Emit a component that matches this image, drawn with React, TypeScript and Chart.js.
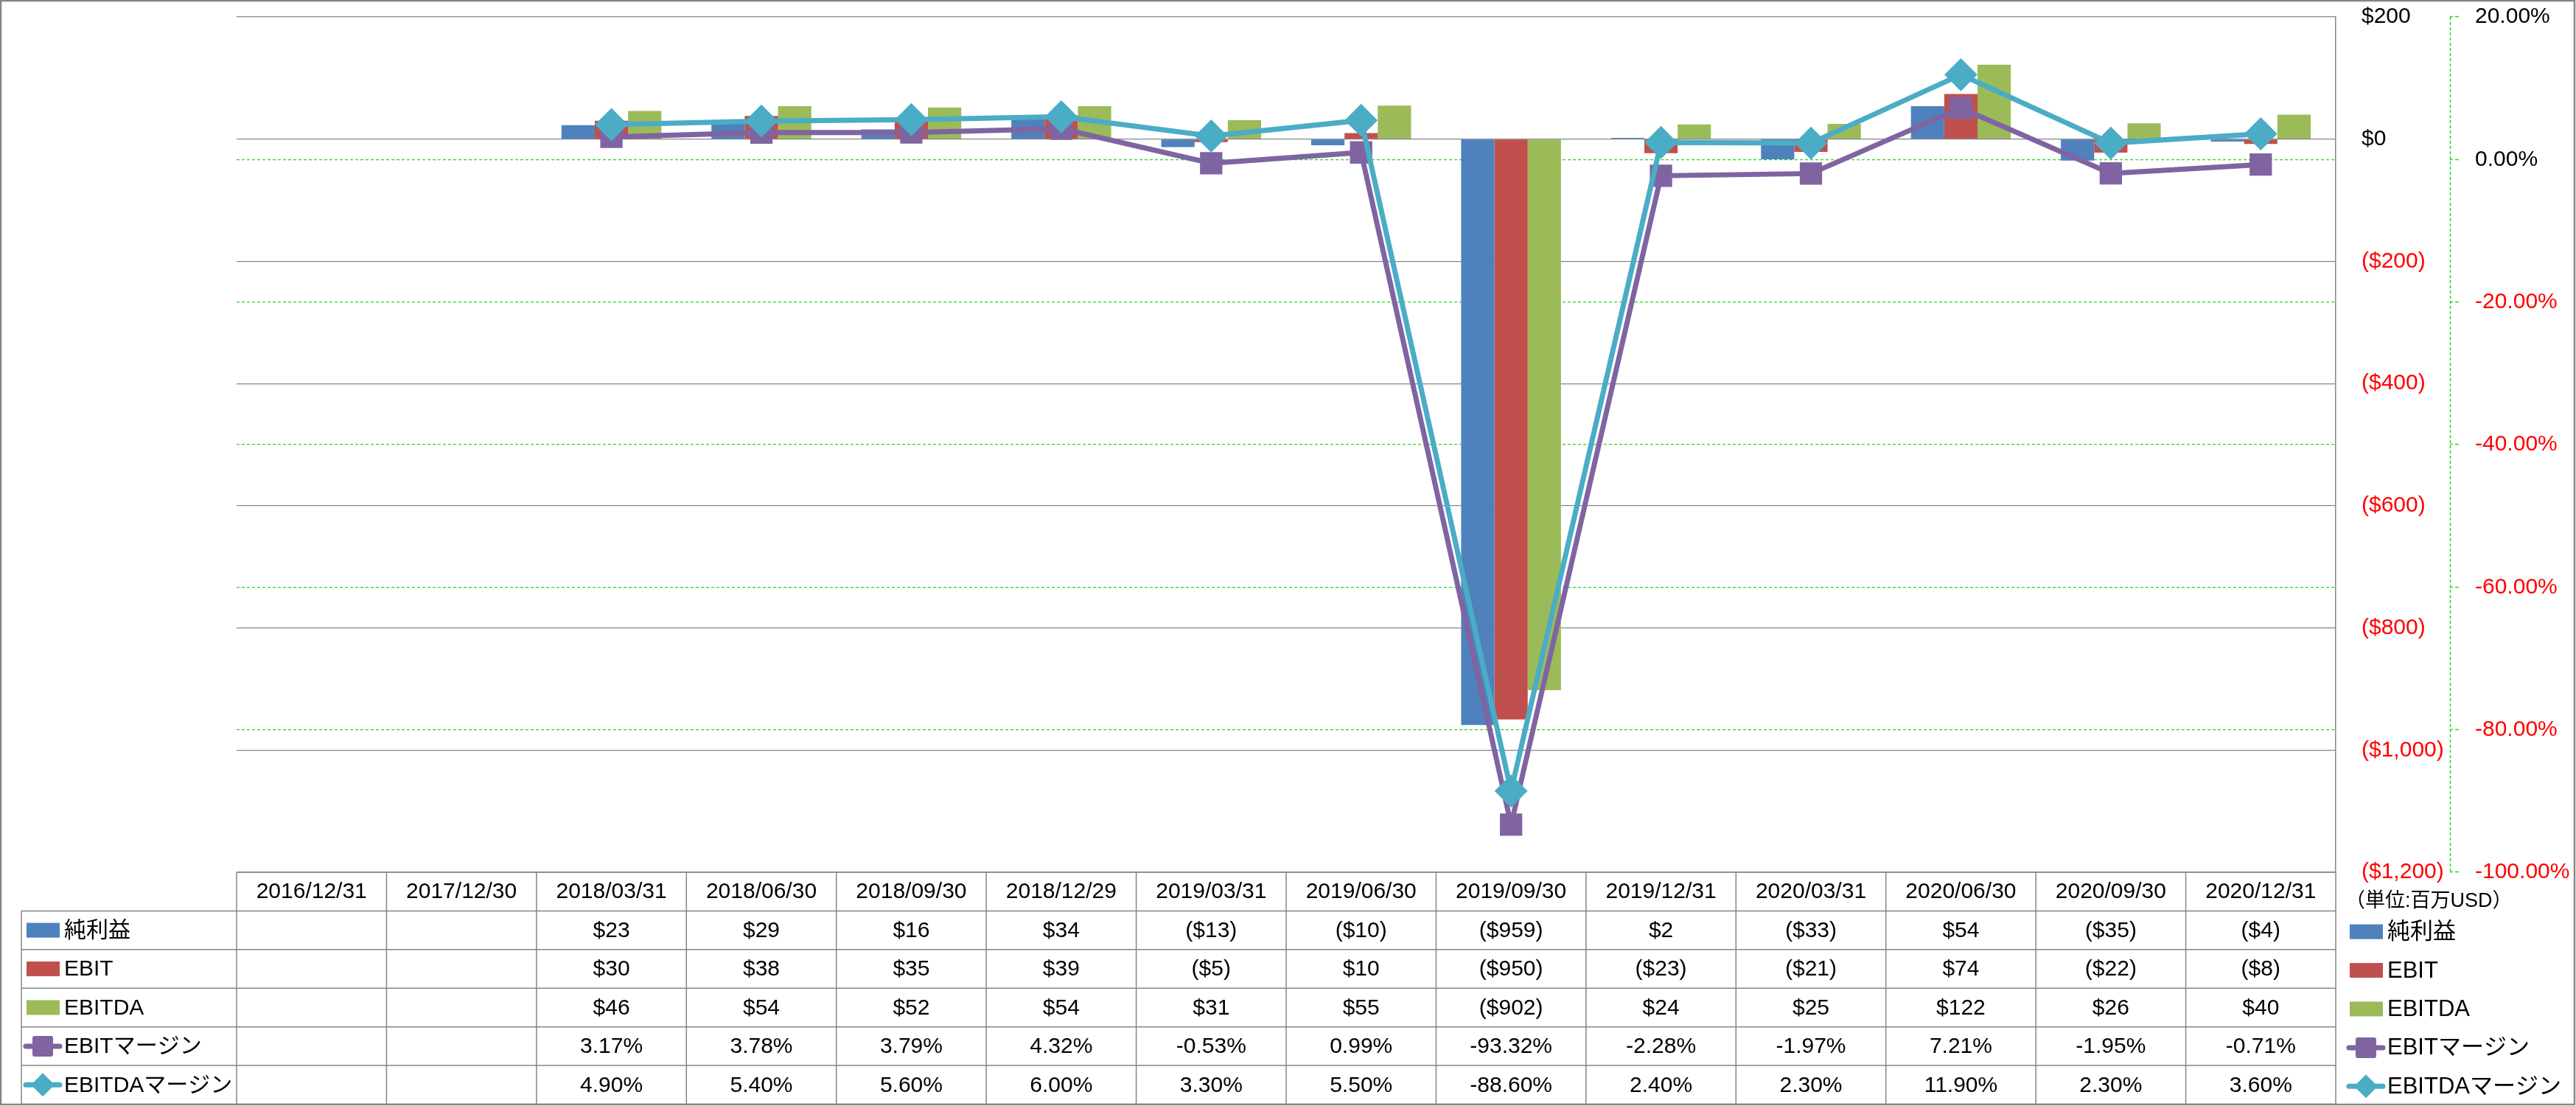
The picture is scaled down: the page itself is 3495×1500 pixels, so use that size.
import React, { useEffect, useRef } from "react";
import { Chart, registerables } from "chart.js";

Chart.register(...registerables);

const categories = [
  "2016/12/31", "2017/12/30", "2018/03/31", "2018/06/30", "2018/09/30", "2018/12/29", "2019/03/31",
  "2019/06/30", "2019/09/30", "2019/12/31", "2020/03/31", "2020/06/30", "2020/09/30", "2020/12/31",
];
const netIncome = [null, null, 23, 29, 16, 34, -13, -10, -959, 2, -33, 54, -35, -4];
const ebit = [null, null, 30, 38, 35, 39, -5, 10, -950, -23, -21, 74, -22, -8];
const ebitda = [null, null, 46, 54, 52, 54, 31, 55, -902, 24, 25, 122, 26, 40];
const ebitMargin = [null, null, 3.17, 3.78, 3.79, 4.32, -0.53, 0.99, -93.32, -2.28, -1.97, 7.21, -1.95, -0.71];
const ebitdaMargin = [null, null, 4.9, 5.4, 5.6, 6.0, 3.3, 5.5, -88.6, 2.4, 2.3, 11.9, 2.3, 3.6];
const seriesNames = ["純利益", "EBIT", "EBITDA", "EBITマージン", "EBITDAマージン"];
const unitLabel = "（単位:百万USD）";

const W = 3495;
const H = 1500;
const FONT = '"Liberation Sans", "Noto Sans CJK JP", sans-serif';
const BLUE = "#4F81BD";
const RED = "#C0504D";
const GREEN = "#9BBB59";
const PURPLE = "#8064A2";
const CYAN = "#4BACC6";
const LIME = "#1EDC1E";
const GRAY = "#868686";

const fmtDollar = (v: number | null) => {
  if (v === null || v === undefined) return "";
  const s = "$" + Math.abs(v).toLocaleString("en-US");
  return v < 0 ? `(${s})` : s;
};
const fmtPct = (v: number | null) => (v === null || v === undefined ? "" : `${v.toFixed(2)}%`);

type Row = { label: string; kind: "bar" | "square" | "diamond"; color: string; values: (number | null)[]; fmt: (v: number | null) => string };

const rows: Row[] = [
  { label: seriesNames[0], kind: "bar", color: BLUE, values: netIncome, fmt: fmtDollar },
  { label: seriesNames[1], kind: "bar", color: RED, values: ebit, fmt: fmtDollar },
  { label: seriesNames[2], kind: "bar", color: GREEN, values: ebitda, fmt: fmtDollar },
  { label: seriesNames[3], kind: "square", color: PURPLE, values: ebitMargin, fmt: fmtPct },
  { label: seriesNames[4], kind: "diamond", color: CYAN, values: ebitdaMargin, fmt: fmtPct },
];

function drawMarker(ctx: CanvasRenderingContext2D, kind: string, color: string, cx: number, cy: number) {
  ctx.save();
  ctx.fillStyle = color;
  ctx.strokeStyle = color;
  if (kind === "bar") {
    ctx.fillRect(cx - 22, cy - 10, 45, 20);
  } else {
    ctx.lineWidth = 7;
    ctx.lineCap = "round";
    ctx.beginPath();
    ctx.moveTo(cx - 23, cy);
    ctx.lineTo(cx + 23, cy);
    ctx.stroke();
    if (kind === "square") {
      const s = 14;
      const r = 3;
      ctx.beginPath();
      ctx.moveTo(cx - s + r, cy - s);
      ctx.arcTo(cx + s, cy - s, cx + s, cy + s, r);
      ctx.arcTo(cx + s, cy + s, cx - s, cy + s, r);
      ctx.arcTo(cx - s, cy + s, cx - s, cy - s, r);
      ctx.arcTo(cx - s, cy - s, cx + s, cy - s, r);
      ctx.closePath();
      ctx.fill();
    } else {
      const d = 16;
      ctx.beginPath();
      ctx.moveTo(cx, cy - d);
      ctx.lineTo(cx + d, cy);
      ctx.lineTo(cx, cy + d);
      ctx.lineTo(cx - d, cy);
      ctx.closePath();
      ctx.fill();
    }
  }
  ctx.restore();
}

const framePlugin = {
  id: "frameAndTable",
  afterDraw(chart: any) {
    const ctx: CanvasRenderingContext2D = chart.ctx;
    const area = chart.chartArea;
    const xs = chart.scales.x;
    const y1 = chart.scales.y1;
    ctx.save();

    // dashed secondary axis line
    ctx.strokeStyle = LIME;
    ctx.lineWidth = 1.5;
    ctx.setLineDash([4, 3]);
    ctx.beginPath();
    ctx.moveTo(Math.round(y1.left) + 0.5, y1.top);
    ctx.lineTo(Math.round(y1.left) + 0.5, y1.bottom);
    ctx.stroke();
    ctx.setLineDash([]);

    // data table
    const top = area.bottom;
    const bottom = H - 2.5;
    const rowH = (bottom - top) / 6;
    const n = categories.length;
    const step = xs.getPixelForValue(1) - xs.getPixelForValue(0);
    const legendLeft = 29;

    ctx.strokeStyle = GRAY;
    ctx.lineWidth = 1.5;
    ctx.beginPath();
    ctx.moveTo(area.left, top);
    ctx.lineTo(area.right, top);
    for (let r = 1; r <= 6; r++) {
      const y = top + r * rowH;
      ctx.moveTo(legendLeft, y);
      ctx.lineTo(area.right, y);
    }
    ctx.moveTo(legendLeft, top + rowH);
    ctx.lineTo(legendLeft, bottom);
    for (let i = 0; i <= n; i++) {
      const x = i < n ? xs.getPixelForValue(i) - step / 2 : xs.getPixelForValue(n - 1) + step / 2;
      ctx.moveTo(x, top);
      ctx.lineTo(x, bottom);
    }
    ctx.stroke();

    ctx.fillStyle = "#000";
    ctx.textAlign = "center";
    ctx.textBaseline = "middle";
    ctx.font = `30px ${FONT}`;
    for (let i = 0; i < n; i++) {
      const cx = xs.getPixelForValue(i);
      ctx.fillText(categories[i], cx, top + rowH / 2 + 1);
      rows.forEach((row, r) => {
        ctx.fillText(row.fmt(row.values[i]), cx, top + (r + 1.5) * rowH + 1);
      });
    }

    // left legend column
    ctx.textAlign = "left";
    rows.forEach((row, r) => {
      const cy = top + (r + 1.5) * rowH;
      drawMarker(ctx, row.kind, row.color, 58, cy);
      ctx.fillStyle = "#000";
      ctx.fillText(row.label, 87, cy + 1);
    });

    // right legend
    ctx.font = `27px ${FONT}`;
    ctx.fillText(unitLabel, 3182, top + 40);
    ctx.font = `31px ${FONT}`;
    rows.forEach((row, r) => {
      const cy = top + (r + 1.5) * rowH + 2;
      drawMarker(ctx, row.kind, row.color, 3210, cy);
      ctx.fillStyle = "#000";
      ctx.fillText(row.label, 3239, cy + 1);
    });

    // outer frame
    ctx.strokeStyle = GRAY;
    ctx.lineWidth = 2.5;
    ctx.strokeRect(1, 1, W - 3, H - 3);
    ctx.restore();
  },
};

export default function App() {
  const ref = useRef<HTMLCanvasElement | null>(null);
  useEffect(() => {
    document.body.style.overflow = "hidden";
    const canvas = ref.current;
    if (!canvas) return;
    const barCommon = { type: "bar" as const, yAxisID: "y", order: 2, categoryPercentage: 0.666, barPercentage: 1 };
    const chart = new Chart(canvas, {
      type: "bar",
      data: {
        labels: categories,
        datasets: [
          { ...barCommon, label: seriesNames[0], data: netIncome, backgroundColor: BLUE },
          { ...barCommon, label: seriesNames[1], data: ebit, backgroundColor: RED },
          { ...barCommon, label: seriesNames[2], data: ebitda, backgroundColor: GREEN },
          {
            type: "line", label: seriesNames[3], data: ebitMargin, yAxisID: "y1", order: 1,
            borderColor: PURPLE, borderWidth: 7, tension: 0,
            pointStyle: "rect", pointRadius: 20, pointBorderWidth: 2,
            pointBackgroundColor: PURPLE, pointBorderColor: PURPLE,
          },
          {
            type: "line", label: seriesNames[4], data: ebitdaMargin, yAxisID: "y1", order: 0,
            borderColor: CYAN, borderWidth: 7, tension: 0,
            pointStyle: "rectRot", pointRadius: 21, pointBorderWidth: 2,
            pointBackgroundColor: CYAN, pointBorderColor: CYAN,
          },
        ] as any,
      },
      options: {
        responsive: false,
        animation: false,
        devicePixelRatio: 1,
        layout: { padding: { left: 321, top: 21, right: 0, bottom: 317 } },
        plugins: { legend: { display: false }, tooltip: { enabled: false } },
        scales: {
          x: { display: false },
          y: {
            position: "right",
            min: -1200,
            max: 200,
            ticks: {
              stepSize: 200,
              padding: 0,
              font: { size: 30, family: FONT },
              color: (c: any) => (c.tick && c.tick.value < 0 ? "#FF0000" : "#000000"),
              callback: (v: any) => fmtDollar(Number(v)),
            },
            grid: { color: GRAY, lineWidth: 1.2, drawTicks: true, tickLength: 35, tickColor: "rgba(0,0,0,0)" },
            border: { display: true, color: GRAY, width: 1.5 },
            afterFit: (s: any) => { s.width = 155; },
          },
          y1: {
            position: "right",
            min: -100,
            max: 20,
            ticks: {
              stepSize: 20,
              padding: 0,
              font: { size: 30, family: FONT },
              color: (c: any) => (c.tick && c.tick.value < 0 ? "#FF0000" : "#000000"),
              callback: (v: any) => fmtPct(Number(v)),
            },
            grid: {
              color: (c: any) => (c.tick && (c.tick.value === 20 || c.tick.value === -100) ? "rgba(0,0,0,0)" : LIME),
              lineWidth: 1.2, drawTicks: true, tickLength: 34, tickColor: LIME,
              tickWidth: 1.5, tickBorderDash: [4, 3, 5, 200],
            },
            border: { display: false, dash: [4, 3] },
            afterFit: (s: any) => { s.width = 171; },
          },
        },
      } as any,
      plugins: [framePlugin],
    });
    return () => chart.destroy();
  }, []);
  return (
    <div style={{ position: "absolute", left: 0, top: 0, width: W, height: H, background: "#fff" }}>
      <canvas ref={ref} width={W} height={H} style={{ display: "block", width: W, height: H }} />
    </div>
  );
}
